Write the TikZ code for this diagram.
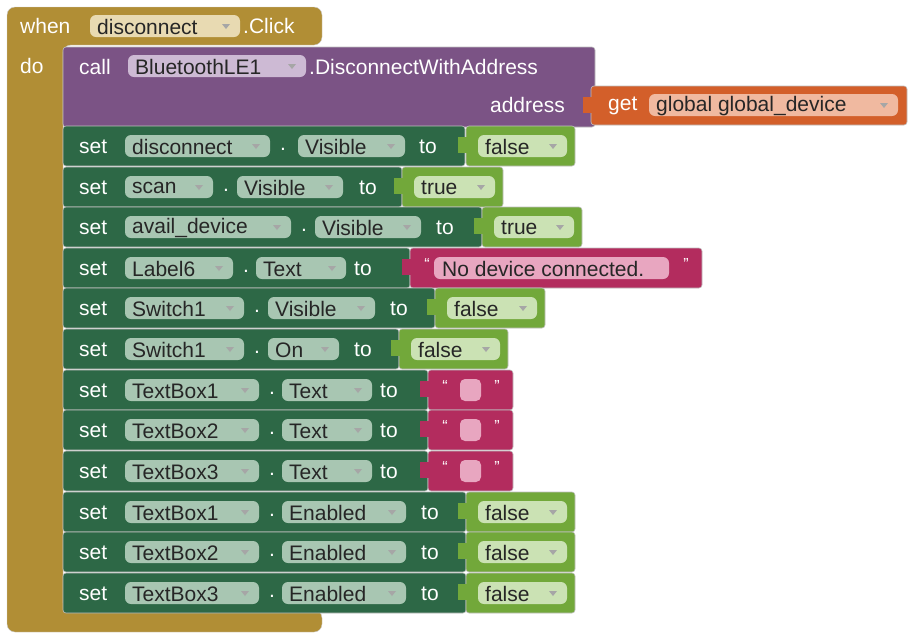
\documentclass[tikz,border=0pt]{standalone}
\usepackage{fontspec}
\setmainfont{Liberation Sans}
\definecolor{gold}{RGB}{177,142,53}
\definecolor{goldl}{RGB}{232,218,178}
\definecolor{purp}{RGB}{123,83,133}
\definecolor{purpl}{RGB}{205,186,212}
\definecolor{dgreen}{RGB}{45,104,70}
\definecolor{dgreenl}{RGB}{168,198,178}
\definecolor{lgreen}{RGB}{114,168,58}
\definecolor{lgreenl}{RGB}{203,226,180}
\definecolor{mag}{RGB}{179,44,94}
\definecolor{magl}{RGB}{232,166,192}
\definecolor{orng}{RGB}{211,95,42}
\definecolor{orngl}{RGB}{240,185,160}
\tikzset{txt/.style={font=\fontsize{21}{24}\selectfont,inner sep=0pt},
 wtxt/.style={txt,text=white},
 qtxt/.style={text=white,font=\fontsize{16}{16}\selectfont,inner sep=0pt},
 blk/.style={draw=black!25,line width=0.6pt,rounded corners=3pt}}
\newcommand\dd[5]{%
 \path[fill=#5,rounded corners=6pt] (#1,#3-11) rectangle (#2,#3+11);
 \node[anchor=west,txt,text=black!85] at (#1+7,#3+1) {#4};
 \fill[black!35] (#2-18,#3-2) -- (#2-10,#3-2) -- (#2-14,#3+3);}
\newcommand\setrow[8]{% yc comp compEnd prop propStart propEnd toX setEnd
 \path[blk,fill=dgreen] (63,#1-20) rectangle (#8,#1+20);
 \node[wtxt,anchor=west] at (79,#1+1) {set};
 \dd{125}{#3}{#1}{#2}{dgreenl}
 \node[wtxt] at (#3+13,#1+3) {.};
 \dd{#5}{#6}{#1}{#4}{dgreenl}
 \node[wtxt] at (#7,#1+1) {to};}
\newcommand\boolv[4]{% yc x1 x2 text
 \path[blk,fill=lgreen] (#2,#1-20) rectangle (#3,#1+20);
 \fill[lgreen] (#2-8,#1-9) rectangle (#2+2,#1+7);
 \dd{#2+12}{#3-8}{#1}{#4}{lgreenl}}
\newcommand\strv[3]{% yc x1 x2
 \path[blk,fill=mag] (#2,#1-20) rectangle (#3,#1+20);
 \fill[mag] (#2-8,#1-9) rectangle (#2+2,#1+7);
 \node[qtxt] at (#2+17,#1-4) {“};
 \node[qtxt] at (#3-16,#1-4) {”};}
\begin{document}
\begin{tikzpicture}[x=1pt,y=-1pt]
\useasboundingbox (0,0) rectangle (913,638);
% event block
\path[fill=gold,draw=black!20,rounded corners=8pt]
 (7,7) -- (322,7) -- (322,45) -- (63,45) -- (63,610) -- (322,610) -- (322,632) -- (7,632) -- cycle;
\node[wtxt,anchor=west] at (20,26) {when};
\dd{90}{240}{26}{disconnect}{goldl}
\node[wtxt,anchor=west] at (243,26) {.Click};
\node[wtxt,anchor=west] at (20,66) {do};
% call block
\path[blk,fill=purp] (63,47) rectangle (595,127);
\node[wtxt,anchor=west] at (79,67) {call};
\dd{128}{306}{66}{BluetoothLE1}{purpl}
\node[wtxt,anchor=west] at (309,67) {.DisconnectWithAddress};
\node[wtxt,anchor=east] at (565,105) {address};
% get block
\path[blk,fill=orng] (591,86) rectangle (907,125);
\fill[orng] (583,97) rectangle (593,113);
\node[wtxt,anchor=west] at (608,106) {get};
\dd{649}{898}{105}{global global\_device}{orngl}
% rows
\setrow{146}{disconnect}{270}{Visible}{298}{405}{428}{465}
\boolv{146}{466}{575}{false}
\setrow{187}{scan}{213}{Visible}{237}{343}{368}{402}
\boolv{187}{402}{503}{true}
\setrow{227}{avail\_device}{291}{Visible}{315}{421}{445}{482}
\boolv{227}{482}{582}{true}
\setrow{268}{Label6}{233}{Text}{256}{346}{363}{410}
\strv{268}{410}{702}
\path[fill=magl,rounded corners=6pt] (434,257) rectangle (669,279);
\node[txt,text=black!85,anchor=west] at (442,269) {No device connected.};
\setrow{308}{Switch1}{244}{Visible}{268}{375}{399}{435}
\boolv{308}{435}{545}{false}
\setrow{349}{Switch1}{244}{On}{268}{339}{363}{399}
\boolv{349}{399}{508}{false}
\foreach \y/\n in {390/1,430/2,471/3}{
 \setrow{\y}{TextBox\n}{259}{Text}{282}{372}{389}{428}
 \strv{\y}{428}{513}
 \path[fill=magl,rounded corners=5pt] (460,\y-11) rectangle (481,\y+11);}
\foreach \y/\n in {512/1,552/2,593/3}{
 \setrow{\y}{TextBox\n}{259}{Enabled}{282}{406}{430}{466}
 \boolv{\y}{466}{575}{false}}
\end{tikzpicture}
\end{document}
